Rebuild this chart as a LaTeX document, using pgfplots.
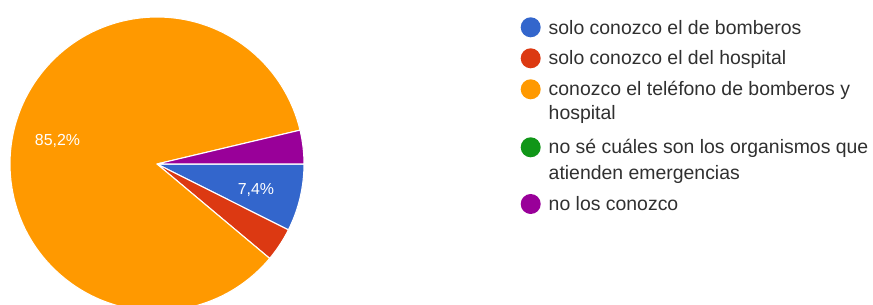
\documentclass[border=0pt]{standalone}
\usepackage{pgfplots}
\usepackage{pgfplotstable}
\usepackage{fontspec}
\setmainfont{Liberation Sans}
\pgfplotsset{compat=1.18}
\definecolor{gblue}{HTML}{3366CC}
\definecolor{gred}{HTML}{DC3912}
\definecolor{gorange}{HTML}{FF9900}
\definecolor{ggreen}{HTML}{109618}
\definecolor{gpurple}{HTML}{990099}
\definecolor{legtext}{HTML}{303030}

\pgfplotstableread[col sep=comma]{
color,value
gblue,7.4
gred,3.7
gorange,85.2
ggreen,0
gpurple,3.7
}\piedata

\begin{document}
\begin{tikzpicture}
\useasboundingbox (0,0) rectangle (873bp,305bp);
\begin{axis}[
  at={(0,0)}, anchor=origin,
  width=873bp, height=305bp, scale only axis,
  xmin=0, xmax=873, ymin=0, ymax=305,
  hide axis, clip=false,
]
\gdef\startang{0}
\pgfplotsforeachungrouped \i in {0,...,4} {%
  \pgfplotstablegetelem{\i}{value}\of\piedata
  \let\val\pgfplotsretval
  \pgfplotstablegetelem{\i}{color}\of\piedata
  \let\col\pgfplotsretval
  \pgfmathsetmacro\endang{\startang - 3.6*\val}%
  \ifdim\val pt>0pt
    \edef\temp{\noexpand\fill[\col, draw=white, line width=1.1pt, line join=round]
      (axis cs:157,141) -- ++(\startang:147bp)
      arc[start angle=\startang, end angle=\endang, radius=147bp] -- cycle;}%
    \temp
  \fi
  \xdef\startang{\endang}%
}
% slice labels
\node[anchor=base, text=white, font=\fontsize{16}{19}\selectfont] at (axis cs:57.5,159.3) {85,2\%};
\node[anchor=base, text=white, font=\fontsize{16}{19}\selectfont] at (axis cs:256,110) {7,4\%};
% legend
\fill[gblue]   (axis cs:530.7,277.7) circle (10bp);
\fill[gred]    (axis cs:530.7,246.7) circle (10bp);
\fill[gorange] (axis cs:530.7,215.7) circle (10bp);
\fill[ggreen]  (axis cs:530.7,157.7) circle (10bp);
\fill[gpurple] (axis cs:530.7,101)   circle (10bp);
\begin{scope}[every node/.style={anchor=base west, inner sep=0pt, text=legtext, font=\fontsize{19.5}{23}\selectfont}]
\node at (axis cs:548.5,270) {solo conozco el de bomberos};
\node at (axis cs:548.5,240) {solo conozco el del hospital};
\node at (axis cs:548.5,209) {conozco el teléfono de bomberos y};
\node at (axis cs:548.5,185) {hospital};
\node at (axis cs:548.5,151) {no sé cuáles son los organismos que};
\node at (axis cs:548.5,125.7) {atienden emergencias};
\node at (axis cs:548.5,94.3) {no los conozco};
\end{scope}
\end{axis}
\end{tikzpicture}
\end{document}
